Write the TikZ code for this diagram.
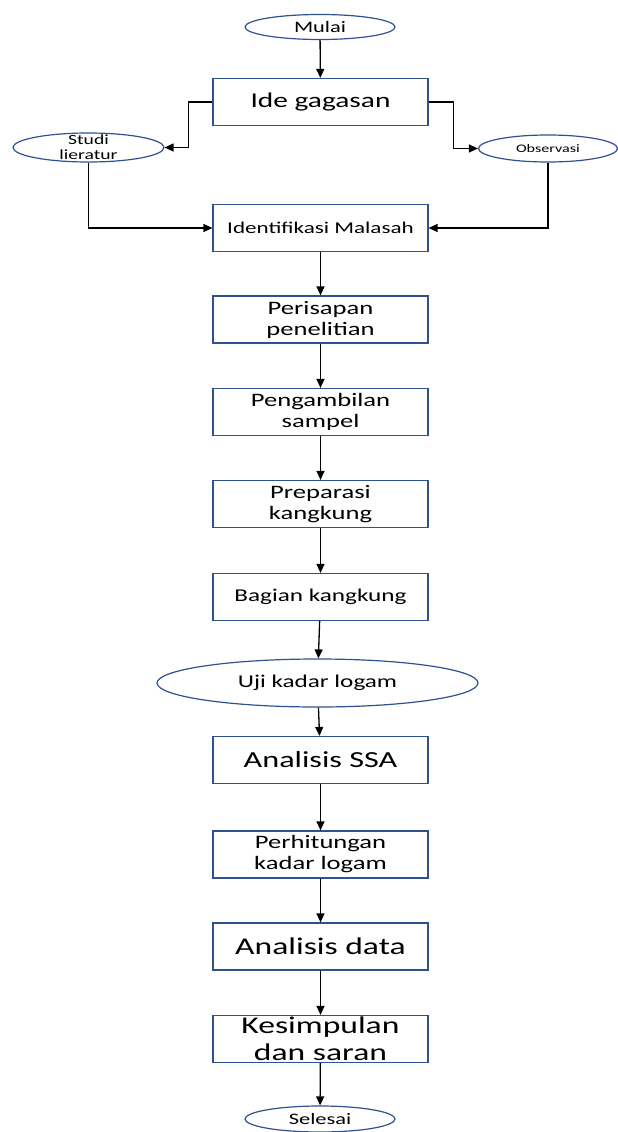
\documentclass[tikz,border=0pt]{standalone}
\usepackage{fontspec}
\setmainfont[FakeStretch=1.4]{Carlito}
\usetikzlibrary{arrows.meta, shapes.geometric, positioning}
\definecolor{boxblue}{HTML}{2F528F}

\begin{document}
\begin{tikzpicture}[x=1pt, y=-1pt,
    box/.style={draw=boxblue, line width=1.2pt, minimum width=215pt, minimum height=47pt, inner sep=0pt, align=center},
    oval/.style={ellipse, draw=boxblue, line width=1.2pt, inner sep=0pt, align=center},
    arr/.style={-{Triangle[length=9pt, width=8pt]}, line width=1.3pt}]
    \useasboundingbox (0, 0) rectangle (618, 1132);

    \node[oval, minimum width=150pt, minimum height=25pt, font=\fontsize{16}{18}\selectfont] (mulai) at (320, 27) {Mulai};
    \node[box, font=\fontsize{21}{23}\selectfont] (ide) at (320.5, 102) {Ide gagasan};
    \node[oval, minimum width=151pt, minimum height=29pt,
        label={[font=\fontsize{14}{15}\selectfont, align=center]center:Studi\\lieratur}] (studi) at (88.5, 147.5) {};
    \node[oval, minimum width=139pt, minimum height=27pt, font=\fontsize{11.5}{13}\selectfont] (obs) at (548, 148.5) {Observasi};
    \node[box, font=\fontsize{16.5}{18}\selectfont] (ident) at (320.5, 228) {Identifikasi Malasah};
    \node[box, font=\fontsize{19}{21}\selectfont] (persiapan) at (320.5, 319.5) {Perisapan\\penelitian};
    \node[box, font=\fontsize{19}{21}\selectfont] (sampel) at (320.5, 412) {Pengambilan\\sampel};
    \node[box, font=\fontsize{19}{21}\selectfont] (preparasi) at (320.5, 504) {Preparasi\\kangkung};
    \node[box, font=\fontsize{18}{20}\selectfont] (bagian) at (320.5, 597) {Bagian kangkung};
    \node[oval, minimum width=321pt, minimum height=48pt, font=\fontsize{18}{20}\selectfont] (uji) at (317.5, 683) {Uji kadar logam};
    \node[box, font=\fontsize{23}{25}\selectfont] (ssa) at (320.5, 760) {Analisis SSA};
    \node[box, font=\fontsize{19}{21}\selectfont] (hitung) at (320.5, 854.5) {Perhitungan\\kadar logam};
    \node[box, font=\fontsize{24}{26}\selectfont] (data) at (320.5, 946.5) {Analisis data};
    \node[box, font=\fontsize{24}{27}\selectfont] (simpul) at (320.5, 1039) {Kesimpulan\\dan saran};
    \node[oval, minimum width=150pt, minimum height=26pt, font=\fontsize{16}{18}\selectfont] (selesai) at (320, 1119) {Selesai};

    \draw[arr] (ide.west) -- ++(-24, 0) |- (studi.east);
    \draw[arr] (ide.east) -- ++(25, 0) |- (obs.west);
    \draw[arr] (studi.south) |- (ident.west);
    \draw[arr] (obs.south) |- (ident.east);

    \draw
    (mulai) edge[arr] (ide)
    (ident) edge[arr] (persiapan)
    (persiapan) edge[arr] (sampel)
    (sampel) edge[arr] (preparasi)
    (preparasi) edge[arr] (bagian)
    (bagian) edge[arr] (uji)
    (uji) edge[arr] (ssa)
    (ssa) edge[arr] (hitung)
    (hitung) edge[arr] (data)
    (data) edge[arr] (simpul)
    (simpul) edge[arr] (selesai);
\end{tikzpicture}
\end{document}
